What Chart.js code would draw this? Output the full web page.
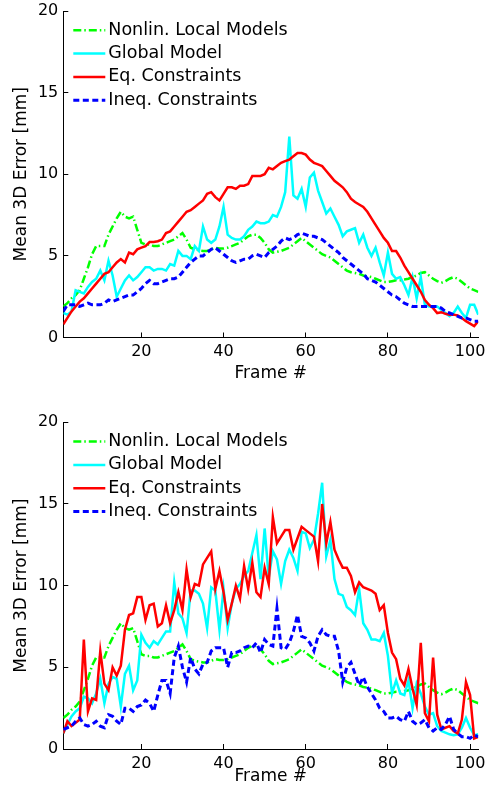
<!DOCTYPE html>
<html>
<head>
<meta charset="utf-8">
<script src="https://cdn.jsdelivr.net/npm/chart.js@4.4.0/dist/chart.umd.min.js"></script>
<style>
  html, body { margin: 0; padding: 0; background: #fff; overflow: hidden; }
  canvas { position: absolute; left: 0; }
  #topChart { top: 0; }
  #bottomChart { top: 398px; }
</style>
</head>
<body>
<canvas id="topChart" width="493" height="398"></canvas>
<canvas id="bottomChart" width="493" height="398"></canvas>
<script>
// Frame index shared by both panels
const frames = [
  1, 2, 3, 4, 5, 6, 7, 8, 9, 10, 11, 12, 13, 14, 15, 16, 17, 18, 19, 20,
  21, 22, 23, 24, 25, 26, 27, 28, 29, 30, 31, 32, 33, 34, 35, 36, 37, 38, 39, 40,
  41, 42, 43, 44, 45, 46, 47, 48, 49, 50, 51, 52, 53, 54, 55, 56, 57, 58, 59, 60,
  61, 62, 63, 64, 65, 66, 67, 68, 69, 70, 71, 72, 73, 74, 75, 76, 77, 78, 79, 80,
  81, 82, 83, 84, 85, 86, 87, 88, 89, 90, 91, 92, 93, 94, 95, 96, 97, 98, 99, 100,
  101, 102
];
const xTicks = [20, 40, 60, 80, 100];
const yTicks = [0, 5, 10, 15, 20];
const seriesNames = ['Nonlin. Local Models', 'Global Model', 'Eq. Constraints', 'Ineq. Constraints'];

// Nonlinear local models (same curve in both panels)
const nonlinLocal = [
  1.9, 2.1, 2.4, 2.6, 2.9, 3.6, 4.3, 5.1, 5.6, 5.6,
  5.6, 6.3, 6.8, 7.3, 7.7, 7.4, 7.3, 7.4, 6.6, 5.8,
  5.7, 5.7, 5.6, 5.6, 5.7, 5.8, 5.9, 6.0, 6.2, 6.4,
  6.0, 5.5, 5.4, 5.35, 5.3, 5.3, 5.4, 5.5, 5.45, 5.45,
  5.5, 5.6, 5.7, 5.8, 6.0, 6.2, 6.3, 6.3, 6.1, 5.8,
  5.4, 5.2, 5.25, 5.3, 5.4, 5.5, 5.7, 5.9, 6.1, 5.9,
  5.7, 5.5, 5.3, 5.1, 5.0, 4.9, 4.7, 4.5, 4.3, 4.1,
  4.0, 3.95, 3.9, 3.8, 3.75, 3.7, 3.6, 3.5, 3.4, 3.4,
  3.45, 3.5, 3.5, 3.55, 3.6, 3.7, 3.8, 3.95, 4.0, 3.8,
  3.6, 3.45, 3.35, 3.45, 3.6, 3.7, 3.6, 3.4, 3.2, 3.0,
  2.9, 2.8
];

// Top panel
const globalTop = [
  1.5, 1.4, 1.6, 2.9, 2.8, 2.7, 3.1, 3.4, 3.6, 4.1,
  3.5, 4.7, 3.8, 2.5, 3.0, 3.5, 3.8, 3.5, 3.7, 4.0,
  4.3, 4.3, 4.1, 4.2, 4.2, 4.1, 4.5, 4.4, 5.3, 5.0,
  5.0, 4.8, 5.6, 5.3, 6.8, 6.0, 5.8, 6.0, 6.8, 8.0,
  6.3, 6.1, 6.0, 6.0, 6.2, 6.6, 6.8, 7.1, 7.0, 7.0,
  7.1, 7.5, 7.4, 8.0, 8.9, 12.3, 8.7, 8.5, 9.1, 8.0,
  9.8, 10.1, 9.0, 8.3, 7.6, 7.9, 7.4, 6.9, 6.2, 6.5,
  6.6, 6.7, 5.8, 6.3, 5.5, 5.0, 5.5, 4.6, 3.8, 5.2,
  3.9, 3.6, 3.7, 3.2, 2.6, 3.7, 2.4, 3.7, 2.0, 1.9,
  1.9, 1.9, 1.7, 1.5, 1.3, 1.5, 1.9, 1.5, 1.2, 2.0,
  2.0, 1.4
];
const eqTop = [
  0.8, 1.2, 1.6, 1.9, 2.2, 2.4, 2.7, 3.0, 3.3, 3.6,
  3.9, 4.0, 4.3, 4.6, 4.8, 4.6, 5.2, 5.1, 5.4, 5.5,
  5.6, 5.85, 5.85, 5.9, 6.0, 6.4, 6.5, 6.8, 7.1, 7.4,
  7.7, 7.8, 8.0, 8.2, 8.4, 8.8, 8.9, 8.6, 8.4, 8.8,
  9.2, 9.2, 9.1, 9.3, 9.3, 9.4, 9.9, 9.9, 9.9, 10.0,
  10.4, 10.3, 10.5, 10.7, 10.8, 10.9, 11.1, 11.3, 11.3, 11.2,
  10.9, 10.7, 10.6, 10.5, 10.2, 9.9, 9.6, 9.4, 9.2, 8.9,
  8.5, 8.3, 8.15, 8.0, 7.7, 7.3, 6.9, 6.5, 6.1, 5.8,
  5.3, 5.3, 4.9, 4.4, 4.0, 3.6, 3.2, 2.8, 2.3, 2.0,
  1.8, 1.5, 1.55, 1.45, 1.4, 1.4, 1.35, 1.2, 1.0, 0.85,
  0.7, 1.0
];
const ineqTop = [
  1.6, 2.0, 2.0, 2.0, 1.9, 2.0, 2.1, 2.0, 2.0, 2.0,
  2.1, 2.3, 2.2, 2.3, 2.4, 2.5, 2.6, 2.6, 2.8, 3.0,
  3.3, 3.5, 3.3, 3.3, 3.4, 3.5, 3.6, 3.6, 3.7, 4.0,
  4.3, 4.6, 4.8, 5.0, 5.0, 5.2, 5.4, 5.5, 5.3, 5.1,
  4.9, 4.7, 4.6, 4.7, 4.8, 4.8, 5.0, 5.1, 5.0, 4.9,
  5.2, 5.4, 5.6, 5.9, 6.1, 6.0, 6.1, 6.3, 6.4, 6.3,
  6.2, 6.2, 6.1, 6.0, 5.8, 5.6, 5.4, 5.2, 4.9, 4.7,
  4.5, 4.3, 4.1, 3.9, 3.6, 3.5, 3.4, 3.2, 3.0, 2.8,
  2.6, 2.5, 2.3, 2.1, 2.0, 1.9, 1.9, 1.9, 1.9, 1.9,
  1.9, 1.9, 1.8, 1.6, 1.5, 1.4, 1.3, 1.2, 1.2, 1.1,
  1.0, 1.0
];

// Bottom panel
const globalBottom = [
  0.96, 1.5, 2.0, 2.3, 2.5, 3.2, 3.1, 2.8, 3.4, 4.3,
  2.8, 4.0, 4.4, 4.3, 2.6, 4.6, 5.1, 3.6, 4.2, 7.0,
  6.5, 6.2, 6.6, 6.4, 6.8, 7.2, 7.2, 10.2, 8.3, 8.0,
  7.1, 9.7, 9.7, 9.5, 8.9, 7.4, 9.9, 9.7, 7.3, 9.8,
  7.4, 8.9, 9.8, 10.1, 10.6, 10.9, 12.0, 13.1, 10.4, 13.5,
  10.5, 12.1, 11.6, 10.1, 11.5, 12.2, 11.7, 10.9, 13.3, 13.2,
  12.3, 12.8, 14.4, 16.3, 11.8, 12.8, 10.4, 9.5, 9.4, 8.7,
  8.5, 8.2, 9.8, 7.7, 7.3, 6.7, 6.7, 6.6, 7.1, 5.7,
  3.4, 4.2, 3.4, 3.3, 4.2, 2.5, 4.0, 3.4, 2.6, 2.1,
  2.2, 1.4, 1.1, 1.0, 0.9, 0.85, 0.9, 1.3, 1.9, 1.3,
  0.85, 0.9
];
const eqBottom = [
  0.96, 1.7, 1.4, 1.6, 1.8, 6.7, 2.3, 3.1, 3.0, 6.0,
  4.0, 3.6, 5.0, 4.5, 5.1, 7.3, 8.2, 8.3, 9.3, 9.3,
  7.9, 8.8, 8.9, 7.5, 7.7, 8.8, 7.7, 8.5, 9.6, 8.5,
  11.0, 9.3, 10.1, 10.0, 11.3, 11.7, 12.1, 9.8, 10.9, 9.6,
  7.9, 8.9, 10.0, 9.2, 11.2, 9.8, 11.4, 9.6, 9.3, 11.1,
  10.1, 14.2, 12.6, 13.0, 13.4, 13.4, 12.2, 12.9, 13.6, 13.4,
  13.2, 13.0, 11.5, 15.0, 12.6, 13.9, 12.2, 11.6, 11.1, 11.1,
  10.6, 9.6, 10.2, 9.9, 9.8, 9.7, 9.5, 8.5, 8.8, 7.1,
  5.9, 5.5, 4.3, 3.9, 4.9, 3.7, 2.7, 6.5, 2.2, 1.7,
  5.6, 2.1, 1.2, 1.3, 1.4, 1.1, 0.95, 1.8, 4.1, 3.3,
  0.65, 0.75
];
const ineqBottom = [
  1.2, 1.3, 1.4, 1.7, 1.9, 1.5, 1.4, 1.5, 1.7, 1.4,
  1.3, 2.1, 2.0, 1.7, 1.5, 2.5, 2.5, 2.3, 2.6, 2.7,
  3.0, 2.8, 2.3, 3.3, 4.2, 4.2, 3.4, 5.6, 6.3, 5.0,
  4.1, 5.6, 4.9, 4.6, 5.2, 5.3, 6.0, 6.2, 6.2, 6.2,
  5.0, 5.9, 5.9, 6.0, 6.2, 6.3, 6.2, 6.5, 5.9, 6.7,
  6.4, 6.3, 8.6, 6.2, 6.1, 6.5, 7.2, 8.2, 6.9, 6.8,
  6.5, 6.0, 6.9, 7.3, 7.0, 6.9, 6.9, 6.0, 4.1, 5.0,
  5.3, 4.6, 3.9, 4.4, 3.8, 3.4, 3.0, 2.5, 2.3, 1.9,
  1.9, 2.0, 1.8, 1.7, 2.3, 1.7, 1.5, 1.6, 1.8, 1.3,
  1.1, 1.3, 1.2, 1.5, 2.0, 1.2, 0.95, 0.75, 0.75, 0.65,
  0.85, 0.75
];

Chart.defaults.font.family = '"DejaVu Sans", sans-serif';
Chart.defaults.color = '#000';

// Line look for each series (matlab-ish colours and dash styles)
const lineStyles = [
  { color: '#00ff00', width: 2.5, dash: [8, 3, 1.5, 3] },
  { color: '#00ffff', width: 2.5, dash: [] },
  { color: '#ff0000', width: 2.5, dash: [] },
  { color: '#0000ff', width: 3, dash: [6, 3.5] }
];

// Legend drawn inside the plot, top-left, no frame
const insideLegend = {
  id: 'insideLegend',
  afterDatasetsDraw(chart) {
    const ctx = chart.ctx;
    const area = chart.chartArea;
    ctx.save();
    ctx.font = '17.5px "DejaVu Sans"';
    ctx.textBaseline = 'middle';
    ctx.textAlign = 'left';
    ctx.fillStyle = '#000';
    chart.data.datasets.forEach((ds, i) => {
      const y = area.top + 19.3 + i * 23.3;
      ctx.strokeStyle = ds.borderColor;
      ctx.lineWidth = ds.borderWidth;
      ctx.setLineDash(ds.borderDash);
      ctx.beginPath();
      ctx.moveTo(area.left + 10, y);
      ctx.lineTo(area.left + 42, y);
      ctx.stroke();
      ctx.setLineDash([]);
      ctx.fillText(ds.label, area.left + 45, y);
    });
    ctx.restore();
  }
};

// Keep the plot box where I put it: no extra room reserved for edge tick labels
function dropLabelPadding(scale) {
  scale.paddingTop = 0;
  scale.paddingBottom = 0;
  scale.paddingLeft = 0;
  scale.paddingRight = 0;
}

function makeChart(canvasId, series, topPad, xAxisHeight, xTitlePad) {
  return new Chart(document.getElementById(canvasId), {
    type: 'line',
    data: {
      datasets: series.map((values, i) => ({
        label: seriesNames[i],
        data: values.map((v, j) => ({ x: frames[j], y: v })),
        borderColor: lineStyles[i].color,
        borderWidth: lineStyles[i].width,
        borderDash: lineStyles[i].dash,
        pointRadius: 0,
        tension: 0,
        fill: false,
        order: series.length - i // later series on top
      }))
    },
    options: {
      responsive: false,
      animation: false,
      devicePixelRatio: 1,
      layout: { padding: { left: 0, right: 14.7, top: topPad, bottom: 0 } },
      plugins: {
        legend: { display: false },
        tooltip: { enabled: false }
      },
      scales: {
        x: {
          type: 'linear',
          min: 1,
          max: 102,
          afterBuildTicks: scale => { scale.ticks = xTicks.map(v => ({ value: v })); },
          afterFit: scale => { scale.height = xAxisHeight; dropLabelPadding(scale); },
          border: { display: true, color: '#000', width: 1 },
          grid: { drawOnChartArea: false, drawTicks: true, tickLength: -5, color: '#000', lineWidth: 1 },
          ticks: { font: { size: 16 }, padding: 10, maxRotation: 0 },
          title: { display: true, text: 'Frame #', font: { size: 17 }, padding: { top: 0, bottom: xTitlePad } }
        },
        y: {
          min: 0,
          max: 20,
          afterBuildTicks: scale => { scale.ticks = yTicks.map(v => ({ value: v })); },
          afterFit: scale => { scale.width = 63.3; dropLabelPadding(scale); },
          border: { display: true, color: '#000', width: 1 },
          grid: { drawOnChartArea: false, drawTicks: true, tickLength: -5, color: '#000', lineWidth: 1 },
          ticks: { font: { size: 16 }, padding: 10 },
          title: { display: true, text: 'Mean 3D Error [mm]', font: { size: 17 }, padding: { top: 11, bottom: 0 } }
        }
      }
    },
    plugins: [insideLegend]
  });
}

makeChart('topChart', [nonlinLocal, globalTop, eqTop, ineqTop], 11, 60.5, 14.5);
makeChart('bottomChart', [nonlinLocal, globalBottom, eqBottom, ineqBottom], 24.3, 47, 9);
</script>
</body>
</html>
